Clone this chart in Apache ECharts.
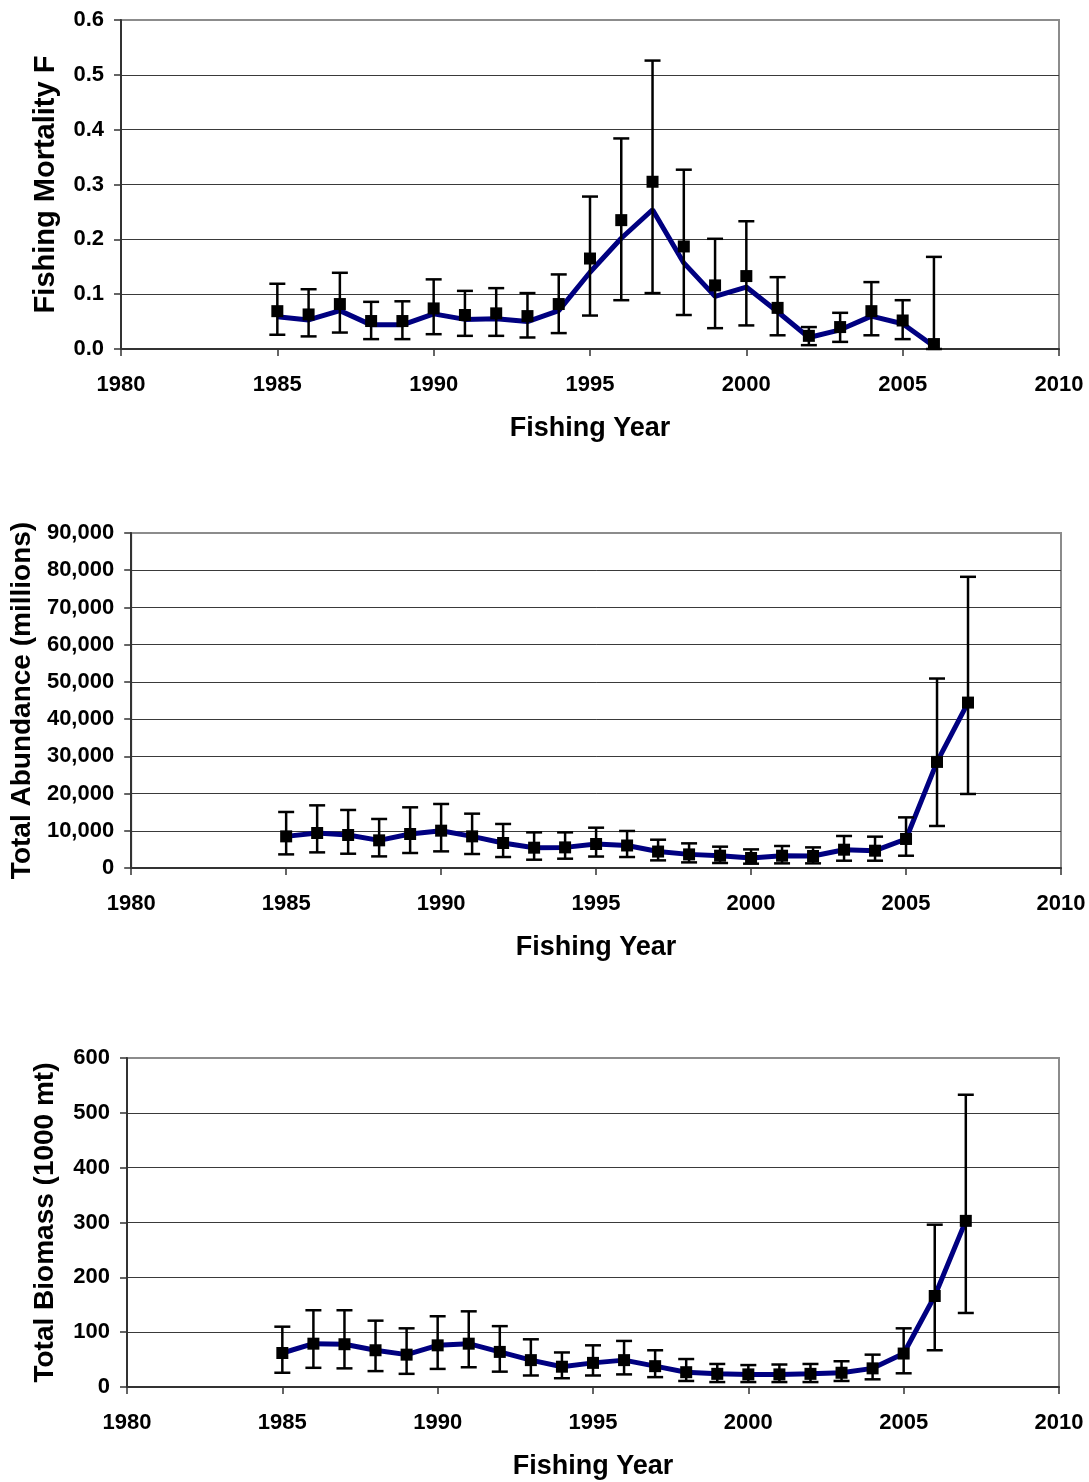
<!DOCTYPE html>
<html>
<head>
<meta charset="utf-8">
<script src="https://cdn.jsdelivr.net/npm/echarts@6/dist/echarts.min.js"></script>
<style>
html,body{margin:0;padding:0;background:#fff;}
#c{width:1089px;height:1482px;}
</style>
</head>
<body>
<div id="c"></div>
<script>
// ---- Data ----
const yearsF = [1985,1986,1987,1988,1989,1990,1991,1992,1993,1994,1995,1996,1997,1998,1999,2000,2001,2002,2003,2004,2005,2006];
const fLine  = [0.059,0.053,0.070,0.044,0.044,0.064,0.054,0.055,0.050,0.070,0.140,0.202,0.254,0.157,0.096,0.113,0.068,0.021,0.035,0.060,0.046,0.005];
const fPoint = [0.069,0.063,0.082,0.051,0.051,0.074,0.062,0.065,0.060,0.082,0.165,0.235,0.305,0.187,0.116,0.133,0.075,0.024,0.040,0.069,0.052,0.009];
const fLow   = [0.026,0.023,0.030,0.018,0.018,0.027,0.024,0.024,0.021,0.029,0.061,0.089,0.102,0.062,0.038,0.043,0.025,0.007,0.013,0.025,0.018,0.000];
const fHigh  = [0.119,0.109,0.139,0.086,0.087,0.127,0.106,0.111,0.102,0.136,0.278,0.384,0.526,0.327,0.201,0.233,0.131,0.040,0.066,0.122,0.089,0.168];

const yearsN = [1985,1986,1987,1988,1989,1990,1991,1992,1993,1994,1995,1996,1997,1998,1999,2000,2001,2002,2003,2004,2005,2006,2007];
const abund     = [8500,9400,8870,7430,9140,10030,8500,6720,5460,5540,6450,6050,4420,3660,3300,2690,3300,3220,4920,4650,7800,28500,44440];
const abundLow  = [3660,4200,3840,3120,4030,4470,3760,2950,2230,2500,3080,2950,2050,1510,1340,1160,1250,1250,1960,1960,3300,11290,19890];
const abundHigh = [15050,16830,15590,13170,16300,17200,14600,11830,9570,9570,10830,9950,7600,6620,5730,5000,5910,5540,8600,8420,13600,50900,78230];

const bio     = [62,79,78,67,59,76,79,64,49,37,44,49,38,27,24,23,23,24,26,34,61,166,303];
const bioLow  = [26,35,34,29,24,33,36,28,21,16,21,23,18,11,9,9,9,9,11,14,25,67,135];
const bioHigh = [110,140,140,121,107,129,138,111,87,63,76,84,67,51,42,40,41,42,47,59,107,296,533];

const xTickLabels = ['1980','1985','1990','1995','2000','2005','2010'];
const yTitles = ['Fishing Mortality F','Total Abundance (millions)','Total Biomass (1000 mt)'];
const xTitle = 'Fishing Year';

// ---- Chart ----
const FONT = "'Liberation Sans', Arial, sans-serif";
const chart = echarts.init(document.getElementById('c'), null, {renderer:'canvas'});

function errRender(params, api){
  const x = api.value(0), lo = api.value(1), hi = api.value(2);
  const pl = api.coord([x, lo]);
  const ph = api.coord([x, hi]);
  const w = 8;
  const st = {stroke:'#000', lineWidth:2.5};
  return {type:'group', children:[
    {type:'line', shape:{x1:pl[0], y1:ph[1], x2:pl[0], y2:pl[1]}, style:st},
    {type:'line', shape:{x1:pl[0]-w, y1:ph[1], x2:pl[0]+w, y2:ph[1]}, style:st},
    {type:'line', shape:{x1:pl[0]-w, y1:pl[1], x2:pl[0]+w, y2:pl[1]}, style:st}
  ]};
}

const grids = [
  {left:121, top:20, width:938, height:329},
  {left:131, top:533, width:930, height:335},
  {left:127, top:1058, width:932, height:329}
];
const yCfg = [
  {max:0.6, interval:0.1, fmt:v=>v.toFixed(1), gap:61, nameSize:29},
  {max:90000, interval:10000, fmt:v=>v.toLocaleString('en-US'), gap:94, nameSize:28},
  {max:600, interval:100, fmt:v=>String(v), gap:68, nameSize:28}
];

const option = {
  backgroundColor:'#fff',
  animation:false,
  grid: grids.map(g => Object.assign({show:true, borderColor:'#8c8c8c', borderWidth:2, backgroundColor:'transparent'}, g)),
  xAxis: grids.map((g,i)=>({
    type:'value', gridIndex:i, min:1980, max:2010, interval:5,
    name:xTitle, nameLocation:'middle', nameGap:66,
    nameTextStyle:{fontFamily:FONT, fontWeight:'bold', fontSize:27, color:'#000'},
    axisLine:{show:true, onZero:false, lineStyle:{color:'#333', width:2}},
    axisTick:{show:true, length:7, lineStyle:{color:'#333', width:1.5}},
    axisLabel:{margin:25, fontFamily:FONT, fontWeight:'bold', fontSize:22, color:'#000',
      formatter:v=>xTickLabels[Math.round((v-1980)/5)]},
    splitLine:{show:false}
  })),
  yAxis: yCfg.map((c,i)=>({
    type:'value', gridIndex:i, min:0, max:c.max, interval:c.interval,
    name:yTitles[i], nameLocation:'middle', nameGap:c.gap, nameRotate:90,
    nameTextStyle:{fontFamily:FONT, fontWeight:'bold', fontSize:c.nameSize, color:'#000'},
    axisLine:{show:true, lineStyle:{color:'#333', width:2}},
    axisTick:{show:true, length:7, lineStyle:{color:'#333', width:1.5}},
    axisLabel:{margin:17, fontFamily:FONT, fontWeight:'bold', fontSize:22, color:'#000', formatter:c.fmt},
    splitLine:{show:true, showMaxLine:false, showMinLine:false, lineStyle:{color:'#3a3a3a', width:1}}
  })),
  series: []
};

const panels = [
  {years:yearsF, line:fLine, pt:fPoint, lo:fLow, hi:fHigh},
  {years:yearsN, line:abund, pt:abund, lo:abundLow, hi:abundHigh},
  {years:yearsN, line:bio, pt:bio, lo:bioLow, hi:bioHigh}
];
panels.forEach((p,i)=>{
  option.series.push({
    type:'line', xAxisIndex:i, yAxisIndex:i, z:2,
    data:p.years.map((y,k)=>[y,p.line[k]]),
    showSymbol:false, symbol:'none',
    lineStyle:{color:'#000080', width:5}
  });
  option.series.push({
    type:'custom', xAxisIndex:i, yAxisIndex:i, z:3,
    renderItem:errRender,
    encode:{x:0, y:[1,2]},
    data:p.years.map((y,k)=>[y,p.lo[k],p.hi[k]])
  });
  option.series.push({
    type:'scatter', xAxisIndex:i, yAxisIndex:i, z:4,
    symbol:'rect', symbolSize:12,
    itemStyle:{color:'#000', opacity:1},
    data:p.years.map((y,k)=>[y,p.pt[k]])
  });
});

chart.setOption(option);
</script>
</body>
</html>
